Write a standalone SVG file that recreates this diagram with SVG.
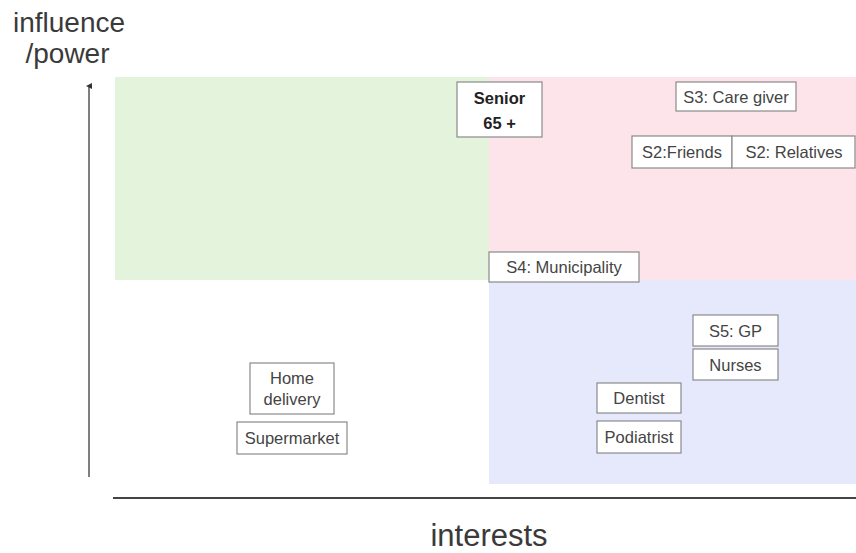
<svg xmlns="http://www.w3.org/2000/svg" width="856" height="553" viewBox="0 0 856 553">
  <defs>
    <style>
      .box { fill: #ffffff; stroke: #8a8a8a; stroke-width: 1.2; }
      .lbl { font-family: "Liberation Sans", Arial, sans-serif; font-size: 16.5px; fill: #444444; text-anchor: middle; }
      .bold { font-weight: bold; fill: #222222; font-size: 16.5px; }
      .axis-label { font-family: "Liberation Sans", Arial, sans-serif; fill: #3a3a3a; text-anchor: middle; }
    </style>
    <marker id="arrowHead" markerWidth="6" markerHeight="6" refX="3" refY="3" orient="auto" markerUnits="userSpaceOnUse">
      <path d="M0,6 L3,0 L6,6 Z" fill="#333333"/>
    </marker>
  </defs>

  <rect width="856" height="553" fill="#ffffff"/>

  <!-- quadrants -->
  <g id="quadrants">
    <rect x="115" y="77" width="374" height="203" fill="#e4f4dc"/>
    <rect x="489" y="77" width="367" height="203" fill="#fde4ea"/>
    <rect x="489" y="280" width="367" height="204" fill="#e5e9fb"/>
  </g>

  <!-- axes -->
  <g id="connectors">
    <line x1="89" y1="477" x2="89" y2="86" stroke="#555555" stroke-width="1.5" marker-end="url(#arrowHead)"/>
    <line x1="113" y1="498" x2="856" y2="498" stroke="#444444" stroke-width="2"/>
  </g>

  <!-- axis titles -->
  <text class="axis-label" x="69" y="32" font-size="28">influence</text>
  <text class="axis-label" x="67.5" y="63" font-size="28">/power</text>
  <text class="axis-label" x="489" y="546" font-size="31">interests</text>

  <g id="senior">
    <rect class="box" x="457" y="82" width="85" height="55"/>
    <text class="lbl bold" x="499.5" y="104">Senior</text>
    <text class="lbl bold" x="499.5" y="129">65 +</text>
  </g>

  <g id="s3-care-giver">
    <rect class="box" x="676" y="82" width="120" height="29"/>
    <text class="lbl" x="736" y="102.5">S3: Care giver</text>
  </g>

  <g id="s2-friends">
    <rect class="box" x="632" y="136" width="100" height="32"/>
    <text class="lbl" x="682" y="158">S2:Friends</text>
  </g>

  <g id="s2-relatives">
    <rect class="box" x="732" y="136" width="123" height="32"/>
    <text class="lbl" x="794" y="158">S2: Relatives</text>
  </g>

  <g id="s4-municipality">
    <rect class="box" x="489" y="252" width="150" height="30"/>
    <text class="lbl" x="564" y="273">S4: Municipality</text>
  </g>

  <g id="s5-gp">
    <rect class="box" x="693" y="315" width="85" height="31"/>
    <text class="lbl" x="735.5" y="336.5">S5: GP</text>
  </g>

  <g id="nurses">
    <rect class="box" x="693" y="349" width="85" height="31"/>
    <text class="lbl" x="735.5" y="370.5">Nurses</text>
  </g>

  <g id="dentist">
    <rect class="box" x="597" y="383" width="84" height="30"/>
    <text class="lbl" x="639" y="404">Dentist</text>
  </g>

  <g id="podiatrist">
    <rect class="box" x="597" y="421" width="84" height="32"/>
    <text class="lbl" x="639" y="443">Podiatrist</text>
  </g>

  <g id="home-delivery">
    <rect class="box" x="250" y="363" width="84" height="51"/>
    <text class="lbl" x="292" y="384">Home</text>
    <text class="lbl" x="292" y="404.5">delivery</text>
  </g>

  <g id="supermarket">
    <rect class="box" x="237" y="422" width="110" height="32"/>
    <text class="lbl" x="292" y="444">Supermarket</text>
  </g>
</svg>
